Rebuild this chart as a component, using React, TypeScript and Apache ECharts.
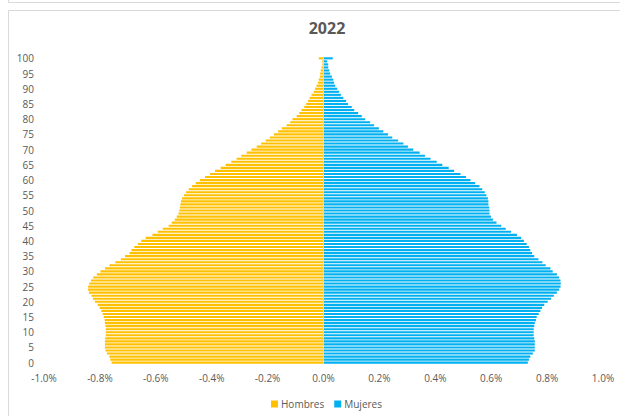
import React, { useEffect, useRef } from "react";
import * as echarts from "echarts";

const ages: string[] = Array.from({ length: 101 }, (_, i) => String(i));

const hombres: number[] = [
  -0.758, -0.763, -0.766, -0.775, -0.78, -0.782, -0.782, -0.782, -0.781, -0.779,
  -0.779, -0.779, -0.78, -0.782, -0.783, -0.786, -0.79, -0.795, -0.801, -0.808,
  -0.818, -0.825, -0.83, -0.839, -0.843, -0.842, -0.838, -0.832, -0.824, -0.811,
  -0.798, -0.782, -0.766, -0.745, -0.725, -0.71, -0.694, -0.687, -0.677, -0.664,
  -0.652, -0.636, -0.612, -0.593, -0.575, -0.554, -0.543, -0.532, -0.525, -0.519,
  -0.516, -0.514, -0.512, -0.51, -0.506, -0.499, -0.492, -0.482, -0.47, -0.457,
  -0.442, -0.424, -0.406, -0.388, -0.368, -0.35, -0.33, -0.311, -0.294, -0.275,
  -0.258, -0.239, -0.223, -0.207, -0.192, -0.177, -0.162, -0.149, -0.132, -0.119,
  -0.111, -0.096, -0.087, -0.079, -0.069, -0.062, -0.055, -0.05, -0.043, -0.035,
  -0.03, -0.025, -0.02, -0.017, -0.013, -0.012, -0.01, -0.007, -0.004, -0.004,
  -0.017,
];

const mujeres: number[] = [
  0.731, 0.735, 0.74, 0.749, 0.756, 0.756, 0.756, 0.756, 0.754, 0.752,
  0.752, 0.752, 0.754, 0.756, 0.76, 0.763, 0.77, 0.776, 0.782, 0.79,
  0.802, 0.814, 0.824, 0.835, 0.843, 0.848, 0.849, 0.848, 0.843, 0.835,
  0.82, 0.812, 0.795, 0.783, 0.769, 0.754, 0.746, 0.74, 0.735, 0.727,
  0.717, 0.707, 0.692, 0.671, 0.652, 0.636, 0.619, 0.606, 0.599, 0.594,
  0.594, 0.593, 0.59, 0.59, 0.588, 0.583, 0.577, 0.568, 0.558, 0.542,
  0.526, 0.51, 0.49, 0.467, 0.448, 0.425, 0.405, 0.383, 0.363, 0.344,
  0.321, 0.302, 0.286, 0.267, 0.246, 0.231, 0.214, 0.198, 0.181, 0.167,
  0.149, 0.137, 0.124, 0.11, 0.101, 0.088, 0.081, 0.071, 0.062, 0.056,
  0.049, 0.042, 0.038, 0.035, 0.03, 0.024, 0.021, 0.017, 0.017, 0.013,
  0.033,
];

const title = "2022";
const seriesNames = ["Hombres", "Mujeres"];

export default function App() {
  const ref = useRef<HTMLDivElement>(null);
  useEffect(() => {
    if (!ref.current) return;
    const chart = echarts.init(ref.current, null, { renderer: "svg" });
    const font = "'Open Sans', 'Noto Sans', sans-serif";
    chart.setOption({
      animation: false,
      backgroundColor: "#ffffff",
      textStyle: { fontFamily: font },
      graphic: [
        {
          type: "rect",
          shape: { x: 8.5, y: -20, width: 700, height: 22.5 },
          style: { fill: "none", stroke: "#d9d9d9", lineWidth: 1 },
          silent: true,
        },
        {
          type: "rect",
          shape: { x: 8.5, y: 10.5, width: 700, height: 500 },
          style: { fill: "none", stroke: "#d9d9d9", lineWidth: 1 },
          silent: true,
        },
      ],
      title: {
        text: title,
        left: 322,
        textAlign: "center",
        top: 15,
        textStyle: { fontFamily: font, fontSize: 16, fontWeight: "bold", color: "#595959" },
      },
      legend: {
        data: seriesNames,
        left: 266,
        top: 394,
        itemWidth: 7,
        itemHeight: 7,
        itemGap: 10,
        icon: "rect",
        textStyle: { fontFamily: font, fontSize: 10, color: "#595959", padding: [0, 0, 0, -2] },
      },
      grid: { left: 44, right: 17, top: 56.8, bottom: 51.8, containLabel: false },
      xAxis: {
        type: "value",
        min: -1,
        max: 1,
        interval: 0.2,
        axisLine: { show: false },
        axisTick: { show: false },
        splitLine: { show: false },
        axisLabel: {
          fontFamily: font,
          fontSize: 10,
          color: "#595959",
          margin: 9,
          formatter: (v: number) => v.toFixed(1) + "%",
        },
      },
      yAxis: {
        type: "category",
        data: ages,
        axisLine: { show: false },
        axisTick: { show: false },
        splitLine: { show: false },
        axisLabel: {
          interval: 4,
          fontFamily: font,
          fontSize: 10,
          color: "#595959",
          margin: 10,
        },
      },
      series: [
        {
          name: seriesNames[0],
          type: "bar",
          data: hombres,
          barGap: "-100%",
          barCategoryGap: "30%",
          itemStyle: { color: "#FFC000" },
        },
        {
          name: seriesNames[1],
          type: "bar",
          data: mujeres,
          barGap: "-100%",
          barCategoryGap: "30%",
          itemStyle: { color: "#00B0F0" },
          markLine: {
            silent: true,
            symbol: ["none", "none"],
            label: { show: false },
            lineStyle: { color: "#d9d9d9", type: "solid", width: 1 },
            data: [{ xAxis: 0 }],
          },
        },
      ],
    });
    return () => chart.dispose();
  }, []);
  return (
    <div
      ref={ref}
      style={{ position: "fixed", left: 0, top: 0, width: 620, height: 416 }}
    />
  );
}
